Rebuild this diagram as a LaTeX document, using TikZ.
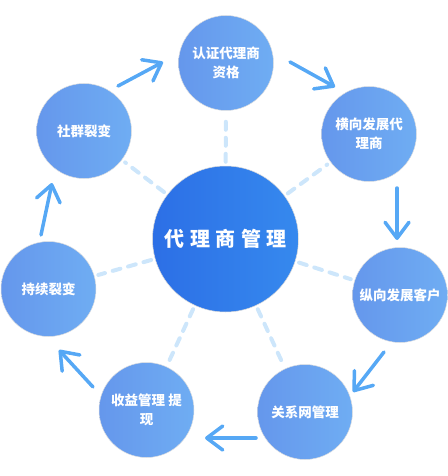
\documentclass[tikz,border=0pt]{standalone}
\usepackage{fontspec}
\setmainfont{Noto Sans CJK SC}
\usetikzlibrary{arrows.meta}
\definecolor{hubleft}{HTML}{2C6FE6}
\definecolor{hubright}{HTML}{3689EE}
\definecolor{ringleft}{HTML}{6597EC}
\definecolor{ringright}{HTML}{6FADF3}
\definecolor{spokeblue}{HTML}{CDE6FB}
\definecolor{flowblue}{HTML}{56A8F5}

\begin{document}
\begin{tikzpicture}[x=1pt,y=-1pt,
  hub/.style={circle,minimum size=146pt,inner sep=0pt,left color=hubleft,right color=hubright,draw=gray!30,line width=0.5pt,text=white,font=\fontsize{20}{24}\selectfont\bfseries},
  stage/.style={circle,minimum size=95pt,inner sep=0pt,left color=ringleft,right color=ringright,draw=gray!25,line width=0.5pt,text=white,align=center,font=\fontsize{13.5}{19.5}\selectfont\bfseries},
  link/.style={spokeblue,line width=4pt,line cap=round,dash pattern=on 8pt off 8pt,shorten <=4pt,shorten >=4pt},
  arr/.style={flowblue,line width=3.5pt,line cap=round,-{Straight Barb[length=16pt,width=24pt,round]}}]
  \useasboundingbox (0,0) rectangle (447,476);
  % Hub and the seven stages
  \node[hub] (hub) at (225.5,239) {代\kern5.5pt 理\kern5.5pt 商\kern5.5pt 管\kern5.5pt 理};
  \node[stage] (cert) at (226,63) {认证代理商\\资格};
  \node[stage] (horiz) at (369,134) {横向发展代\\理商};
  \node[stage] (vert) at (400,295) {纵向发展客户};
  \node[stage] (net) at (305,412) {关系网管理};
  \node[stage] (income) at (146.5,410) {收益管理 提\\现};
  \node[stage] (keep) at (48.5,289) {持续裂变};
  \node[stage] (group) at (84,131) {社群裂变};
  % Dashed spokes
  \foreach \s in {cert,horiz,vert,net,income,keep,group}
    \draw[link] (hub) -- (\s);
  % Cycle arrows
  \coordinate (a1s) at (118,86);  \coordinate (a1e) at (163,62);
  \coordinate (a2s) at (290,62);  \coordinate (a2e) at (335,87);
  \coordinate (a3s) at (397,188); \coordinate (a3e) at (397,240);
  \coordinate (a4s) at (384,352); \coordinate (a4e) at (353,392);
  \coordinate (a5s) at (256,438); \coordinate (a5e) at (205,438);
  \coordinate (a6s) at (93,387);  \coordinate (a6e) at (59,350);
  \coordinate (a7s) at (41,235);  \coordinate (a7e) at (52,183);
  \foreach \i in {1,...,7}
    \draw[arr] (a\i s) -- (a\i e);
\end{tikzpicture}
\end{document}
